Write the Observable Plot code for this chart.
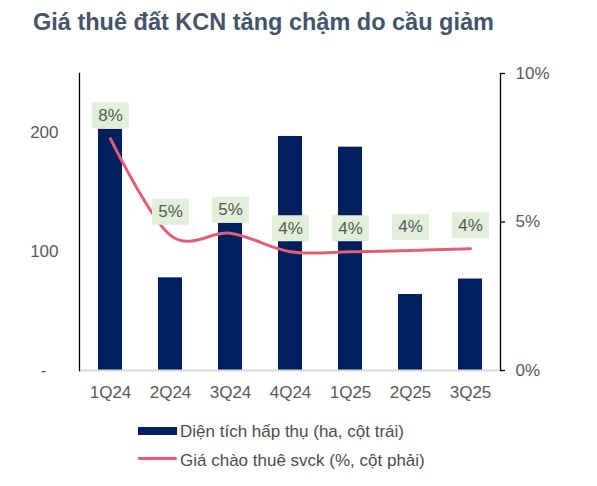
<!DOCTYPE html>
<html>
<head>
<meta charset="utf-8">
<script src="https://cdn.jsdelivr.net/npm/d3@7"></script>
<script src="https://cdn.jsdelivr.net/npm/@observablehq/plot@0.6"></script>
<style>
  html, body { margin: 0; padding: 0; background: #fff; }
  body { width: 597px; height: 486px; position: relative; font-family: "Liberation Sans", Arial, sans-serif; overflow: hidden; }
  #title { position: absolute; left: 33px; top: 9px; font-size: 23.5px; line-height: 27px; font-weight: bold; color: #44546a; white-space: nowrap; }
  #chart { position: absolute; left: 0; top: 50px; }
  .leg { position: absolute; left: 0; font-size: 17px; line-height: 20px; color: #4d4d4d; white-space: nowrap; }
  .leg .sw { position: absolute; left: 138px; width: 39px; }
  .leg .tx { position: absolute; left: 180px; top: 0; }
</style>
</head>
<body>
<div id="title">Giá thuê đất KCN tăng chậm do cầu giảm</div>
<div id="chart"></div>
<div class="leg" style="top:422px"><div class="sw" style="top:5px;height:8px;background:#002060"></div><div class="tx">Diện tích hấp thụ (ha, cột trái)</div></div>
<div class="leg" style="top:451px"><div class="sw" style="top:6px;height:3px;background:#e05f74;border-radius:1.5px"></div><div class="tx">Giá chào thuê svck (%, cột phải)</div></div>
<script>
const quarters = ["1Q24", "2Q24", "3Q24", "4Q24", "1Q25", "2Q25", "3Q25"];
const absorbedArea = [203, 78, 124, 197, 188, 64, 77];          // ha, left axis
const rentGrowth = [7.8, 4.55, 4.62, 4.0, 4.0, 4.04, 4.1];     // %, right axis
const rentLabels = ["8%", "5%", "5%", "4%", "4%", "4%", "4%"];
const leftTicks = [100, 200];
const rightTicks = [0, 5, 10];

const leftMax = 250, rightMax = 10;
const k = leftMax / rightMax;

const data = quarters.map((q, i) => ({q, area: absorbedArea[i], pct: rentGrowth[i], label: rentLabels[i]}));

const boxSymbol = {
  draw(ctx) {
    const w = 18.5, h = 13;
    ctx.moveTo(-w, -h); ctx.lineTo(w, -h); ctx.lineTo(w, h); ctx.lineTo(-w, h); ctx.closePath();
  }
};

const chart = Plot.plot({
  width: 597,
  height: 360,
  marginTop: 23,
  marginBottom: 40,
  marginLeft: 79,
  marginRight: 97,
  style: {fontFamily: "'Liberation Sans', Arial, sans-serif", background: "transparent"},
  x: {domain: quarters, paddingInner: 0.6, paddingOuter: 0.3, label: null},
  y: {domain: [0, leftMax], label: null},
  marks: [
    Plot.barY(data, {x: "q", y: "area", fill: "#002060"}),
    Plot.ruleY([0], {stroke: "#d9d9d9", strokeWidth: 2}),
    Plot.frame({anchor: "left", stroke: "#000", strokeWidth: 1.3}),
    Plot.frame({anchor: "right", stroke: "#000", strokeWidth: 1.3}),
    Plot.axisX({tickSize: 0, tickPadding: 15, fontSize: 17, fill: "#595959", label: null}),
    Plot.axisY({ticks: leftTicks, tickSize: 0, tickPadding: 21, fontSize: 17, fill: "#595959", label: null}),
    Plot.axisY({ticks: [0], tickFormat: () => "-", tickSize: 0, tickPadding: 33, fontSize: 17, fill: "#595959", label: null}),
    Plot.axisY({anchor: "right", ticks: rightTicks.map(t => t * k), tickFormat: d => `${d / k}%`, tickSize: 4, tickPadding: 11, stroke: "#000", strokeWidth: 1.3, fontSize: 17, fill: "#595959", label: null}),
    Plot.line(data, {x: "q", y: d => d.pct * k, stroke: "#e05f74", strokeWidth: 3, curve: "cardinal", tension: 0}),
    Plot.dot(data, {x: "q", y: d => d.pct * k, dy: -23.5, symbol: boxSymbol, fill: "#e2efda", stroke: null}),
    Plot.text(data, {x: "q", y: d => d.pct * k, dy: -23.5, text: "label", fontSize: 17, fill: "#595959"})
  ]
});
document.getElementById("chart").appendChild(chart);
</script>
</body>
</html>
